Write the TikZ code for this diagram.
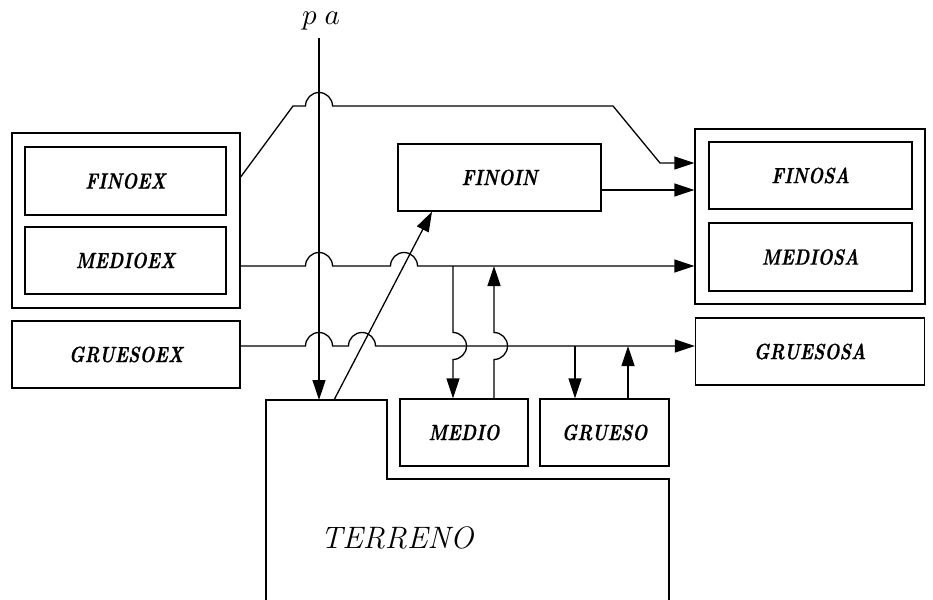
\documentclass[tikz,border=0pt]{standalone}
\usepackage{fontspec}
\usepackage{graphicx}
\usetikzlibrary{arrows.meta}
\newfontfamily\lblfont{Latin Modern Roman}[FakeBold=0.6]
\newcommand{\lbl}[1]{\scalebox{0.8}[1]{#1}}
\begin{document}
\begin{tikzpicture}[x=1pt,y=1pt,line width=1.3pt,
  box/.style={draw,rectangle,inner sep=0pt,font=\lblfont\fontsize{22}{24}\selectfont\bfseries\itshape},
  conn/.style={-{Triangle[length=20pt,width=13pt]}},
  jr/.style={radius=13.5pt}]
\useasboundingbox (0,0) rectangle (933,-599);
% left group
\node[box,minimum width=228pt,minimum height=175pt] (outerL) at (126,-220.5) {};
\node[box,minimum width=201pt,minimum height=68pt] (finoex) at (125.5,-181) {\lbl{FINOEX}};
\node[box,minimum width=201pt,minimum height=67pt] (medioex) at (125.5,-260.5) {\lbl{MEDIOEX}};
\node[box,minimum width=228pt,minimum height=67pt] (gruesoex) at (126,-354.5) {\lbl{GRUESOEX}};
% middle
\node[box,minimum width=203pt,minimum height=67pt] (finoin) at (499.5,-177.5) {\lbl{FINOIN}};
\node[box,minimum width=128pt,minimum height=67pt] (medio) at (464,-432.5) {\lbl{MEDIO}};
\node[box,minimum width=129pt,minimum height=67pt] (grueso) at (604.5,-432.5) {\lbl{GRUESO}};
% right group
\node[box,minimum width=230pt,minimum height=175pt] (outerR) at (810,-216.5) {};
\node[box,minimum width=203pt,minimum height=67pt] (finosa) at (810.5,-175.5) {\lbl{FINOSA}};
\node[box,minimum width=203pt,minimum height=68pt] (mediosa) at (810.5,-257) {\lbl{MEDIOSA}};
\node[box,minimum width=229pt,minimum height=67pt] (gruesosa) at (810,-351.5) {\lbl{GRUESOSA}};
% terreno
\draw (266,-602) -- (266,-400) -- (387,-400) -- (387,-479) -- (669,-479) -- (669,-602);
\node[font=\fontsize{31}{34}\selectfont\itshape] (terreno) at (397,-538) {TERRENO};
\coordinate (tpa) at (319,-400);
\coordinate (tdiag) at (334,-400);
% pa
\node[inner sep=0pt,anchor=base] (pa) at (321,-25) {\scalebox{2.9}{$p\;a$}};
\coordinate (patop) at (319,-38);
\draw[conn] (patop) -- (tpa);
% FINOEX line
\draw[conn] (outerL.east |- 0,-177) -- (293,-106) -- (305.5,-106)
  arc[start angle=180,end angle=0,jr] -- (613,-106) -- (660,-163) -- (outerR.west |- 0,-163);
% FINOIN -> FINOSA
\draw[conn] (finoin.east |- 0,-190) -- (outerR.west |- 0,-190);
% MEDIOEX line
\draw[conn] (outerL.east |- 0,-266) -- (305.5,-266) arc[start angle=180,end angle=0,jr]
  -- (390.5,-266) arc[start angle=180,end angle=0,jr] -- (outerR.west |- 0,-266);
% GRUESOEX line
\draw[conn] (gruesoex.east |- 0,-346) -- (305.5,-346) arc[start angle=180,end angle=0,jr]
  -- (348.5,-346) arc[start angle=180,end angle=0,jr] -- (gruesosa.west |- 0,-346);
% medio branches
\draw[conn] (453,-266) -- (453,-332.5) arc[start angle=90,end angle=-90,jr] -- (453,0 |- medio.north);
\draw[conn] (494,0 |- medio.north) -- (494,-359.5) arc[start angle=-90,end angle=90,jr] -- (494,-266);
% grueso branches
\draw[conn] (575,-346) -- (575,0 |- grueso.north);
\draw[conn] (628,0 |- grueso.north) -- (628,-346);
% diagonal
\draw[conn] (tdiag) -- (432,0 |- finoin.south);
\end{tikzpicture}
\end{document}
